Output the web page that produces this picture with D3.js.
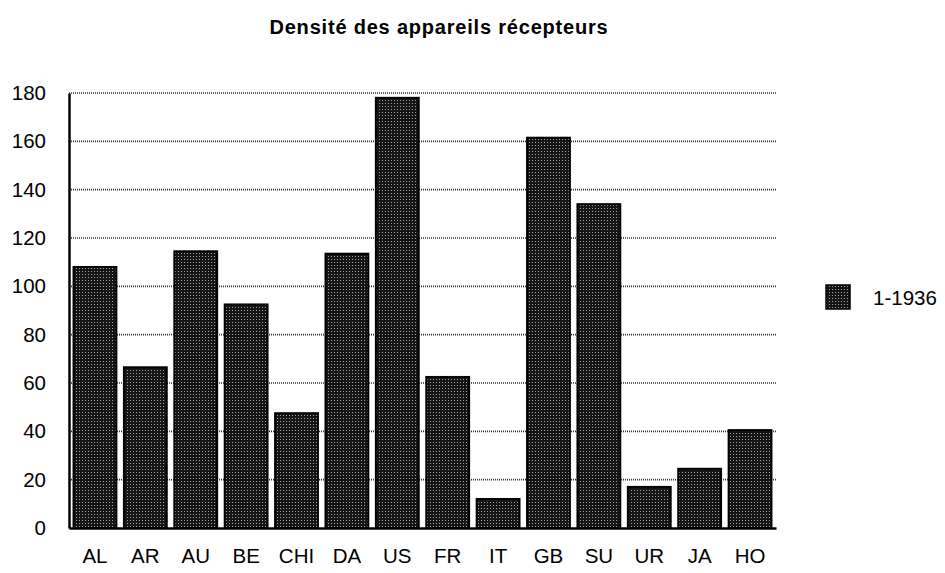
<!DOCTYPE html>
<html><head><meta charset="utf-8">
<script src="https://cdn.jsdelivr.net/npm/d3@7/dist/d3.min.js"></script>
<style>body{margin:0;background:#fff}svg{display:block;font-family:"Liberation Sans",Arial,sans-serif}</style>
</head><body><svg id="c" width="945" height="573"></svg>
<script>
const categories = ["AL","AR","AU","BE","CHI","DA","US","FR","IT","GB","SU","UR","JA","HO"];
const values = [108, 66.5, 114.5, 92.5, 47.5, 113.5, 178, 62.5, 12, 161.5, 134, 17, 24.5, 40.5];
const yTicks = [0,20,40,60,80,100,120,140,160,180];
const seriesName = "1-1936";
const title = "Densité des appareils récepteurs";

const svg = d3.select("#c");
const pLeft = 69, pRight = 776, pTop = 93, pBottom = 528;

const defs = svg.append("defs");
const pat = defs.append("pattern").attr("id","dots").attr("patternUnits","userSpaceOnUse")
  .attr("width",3).attr("height",3);
pat.append("rect").attr("width",3).attr("height",3).attr("fill","#151515");
pat.append("rect").attr("x",1).attr("y",1).attr("width",1).attr("height",1).attr("fill","#a0a0a0");

const x = d3.scaleBand().domain(categories).range([pLeft, pRight]).paddingInner(0.15).paddingOuter(0.09);
const y = d3.scaleLinear().domain([0,180]).range([pBottom, pTop]);

// gridlines
svg.append("g").selectAll("line").data(yTicks.filter(d=>d>0)).join("line")
  .attr("x1", pLeft).attr("x2", pRight).attr("y1", d=>y(d)).attr("y2", d=>y(d))
  .attr("stroke","#333").attr("stroke-width",1.6).attr("stroke-dasharray","1,1");

// bars
svg.append("g").selectAll("rect").data(categories).join("rect")
  .attr("x", d=>x(d)).attr("width", x.bandwidth())
  .attr("y", (d,i)=>y(values[i])).attr("height", (d,i)=>y(0)-y(values[i]))
  .attr("fill","url(#dots)").attr("stroke","#000").attr("stroke-width",2);

// axes
const yAxis = svg.append("g").attr("transform",`translate(${pLeft},0)`)
  .call(d3.axisLeft(y).tickValues(yTicks).tickSize(0).tickPadding(23));
yAxis.select(".domain").attr("stroke","#000").attr("stroke-width",2.5);
yAxis.selectAll("text").attr("font-size",20.5).attr("fill","#000")
  .attr("font-family","Liberation Sans, Arial, sans-serif");

const xAxis = svg.append("g").attr("transform",`translate(0,${pBottom})`)
  .call(d3.axisBottom(x).tickSize(0).tickPadding(20));
xAxis.select(".domain").attr("stroke","#000").attr("stroke-width",2.5);
xAxis.selectAll("text").attr("font-size",20.5).attr("fill","#000")
  .attr("font-family","Liberation Sans, Arial, sans-serif");

// title
svg.append("text").attr("x",439).attr("y",34).attr("text-anchor","middle")
  .attr("font-size",20).attr("letter-spacing","0.8px").attr("font-weight","bold").text(title);

// legend
svg.append("rect").attr("x",826).attr("y",285).attr("width",24).attr("height",24)
  .attr("fill","url(#dots)").attr("stroke","#000").attr("stroke-width",1.5);
svg.append("text").attr("x",873).attr("y",305).attr("font-size",20.5).text(seriesName);
</script></body></html>
